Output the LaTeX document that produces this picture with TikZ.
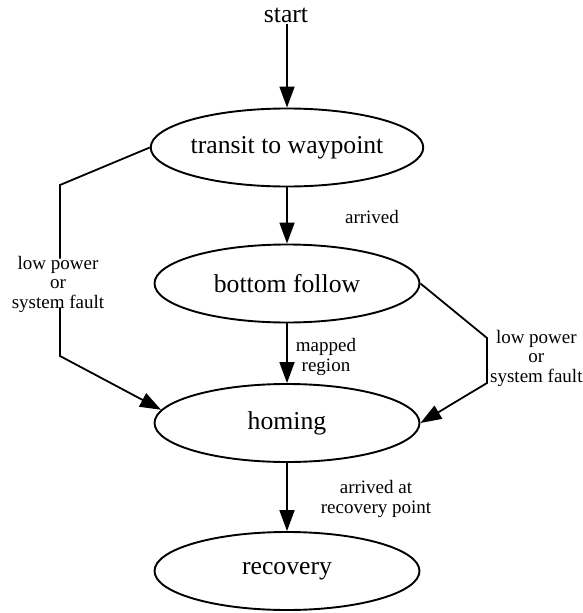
\documentclass[tikz,border=0pt]{standalone}
\usepackage{fontspec}
\setmainfont{Liberation Serif}
\usetikzlibrary{shapes.geometric,arrows.meta}
\begin{document}
\begin{tikzpicture}[x=1pt,y=-1pt,
  state/.style={draw,ellipse,line width=1.9pt,minimum width=265pt,minimum height=78pt,
    inner sep=0pt,font=\fontsize{25.7}{28}\selectfont},
  cond/.style={align=center,inner sep=0pt,font=\fontsize{19}{19.5}\selectfont},
  wire/.style={line width=1.8pt},
  flow/.style={wire,-{Triangle[length=21pt,width=15pt]}}]
\useasboundingbox (0,0) rectangle (583,613);

% states
\node[inner sep=1pt,font=\fontsize{25.7}{28}\selectfont] (start) at (286,15) {start};
\node[state] (transit) at (287,147.5) {transit to waypoint};
\node[state] (follow)  at (287,283.5) {bottom follow};
\node[state] (homing)  at (287,423)   {homing};
\node[state] (recov)   at (287,571)   {recovery};

% transition conditions
\node[cond] (arr)    at (372,217) {arrived};
\node[cond] (mapped) at (326,357) {mapped\\region};
\node[cond] (arrrec) at (376,499) {arrived at\\recovery point};
\node[cond] (faultL) at (58,284)  {low power\\or\\system fault};
\node[cond,anchor=west] (faultR) at (490,358) {low power\\or\\system fault};

% bends of the fault paths
\coordinate (l1) at (60,185);
\coordinate (l2) at (60,356);
\coordinate (r1) at (487,338);
\coordinate (r2) at (487,383);

% main sequence
\draw[flow] (start.south -| transit.north) -- (transit.north);
\draw[flow] (transit.south) -- (follow.north);
\draw[flow] (follow.south) -- (homing.north);
\draw[flow] (homing.south) -- (recov.north);

% fault transitions
\draw[wire] (transit.west) -- (l1) -- ([yshift=-3pt]l1 |- faultL.north);
\draw[flow] ([yshift=5pt]l1 |- faultL.south) -- (l2) -- (homing.174);
\draw[flow] (follow.east) -- (r1) -- (r2) -- (homing.east);
\end{tikzpicture}
\end{document}
